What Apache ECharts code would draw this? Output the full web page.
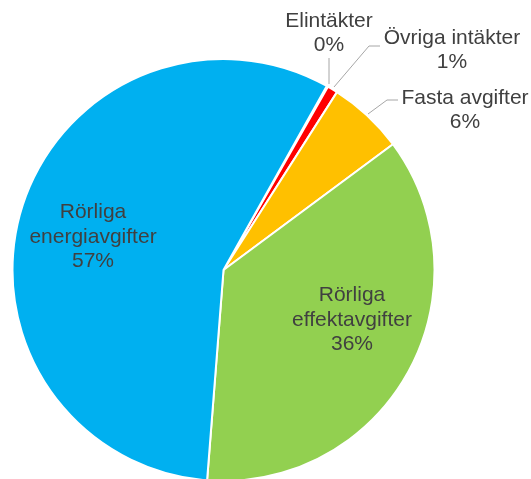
<!DOCTYPE html>
<html>
<head>
<meta charset="utf-8">
<style>
html,body{margin:0;padding:0;background:#fff;}
#chart{width:531px;height:479px;}
</style>
<script src="https://cdn.jsdelivr.net/npm/echarts@6/dist/echarts.min.js"></script>
</head>
<body>
<div id="chart"></div>
<script>
var categories = ['Elintäkter', 'Övriga intäkter', 'Fasta avgifter', 'Rörliga effektavgifter', 'Rörliga energiavgifter'];
var labelNames = ['Elintäkter', 'Övriga intäkter', 'Fasta avgifter', 'Rörliga\neffektavgifter', 'Rörliga\nenergiavgifter'];
var values = [0.1, 0.8, 5.8, 36.4, 56.9];
var colors = ['#C00000', '#FF0000', '#FFC000', '#92D050', '#00B0F0'];

// label placement (label centre + leader line)
var labelPos = [
  {x: 329, y: 33, line: [[329, 84], [329, 58], [329, 58]]},
  {x: 452, y: 50, line: [[334, 87], [369, 46], [380, 46]]},
  {x: 465, y: 110, line: [[368, 114], [387, 100], [398, 100]]},
  {x: 352, y: 320},
  {x: 93, y: 237}
];

var chart = echarts.init(document.getElementById('chart'));
var data = categories.map(function (c, i) {
  return {
    name: c,
    value: values[i],
    itemStyle: {color: colors[i]},
    label: {
      position: i < 3 ? 'outside' : 'inside',
      lineHeight: i < 3 ? 24 : 24.5
    },
    labelLine: {show: i < 3}
  };
});

chart.setOption({
  animation: false,
  series: [{
    type: 'pie',
    center: [223.5, 270],
    radius: [0, 211],
    startAngle: 60.7,
    clockwise: true,
    avoidLabelOverlap: false,
    minShowLabelAngle: 0,
    itemStyle: {borderColor: '#ffffff', borderWidth: 2},
    label: {
      show: true,
      fontFamily: 'Liberation Sans, Arial, sans-serif',
      fontSize: 21,
      color: '#404040',
      align: 'center',
      formatter: function (p) {
        return labelNames[p.dataIndex] + '\n' + Math.round(p.percent) + '%';
      }
    },
    labelLine: {lineStyle: {color: '#A6A6A6', width: 1}},
    labelLayout: function (params) {
      var lp = labelPos[params.dataIndex];
      var o = {x: lp.x, y: lp.y, align: 'center', verticalAlign: 'middle'};
      if (lp.line) o.labelLinePoints = lp.line;
      return o;
    },
    data: data
  }]
});
</script>
</body>
</html>
